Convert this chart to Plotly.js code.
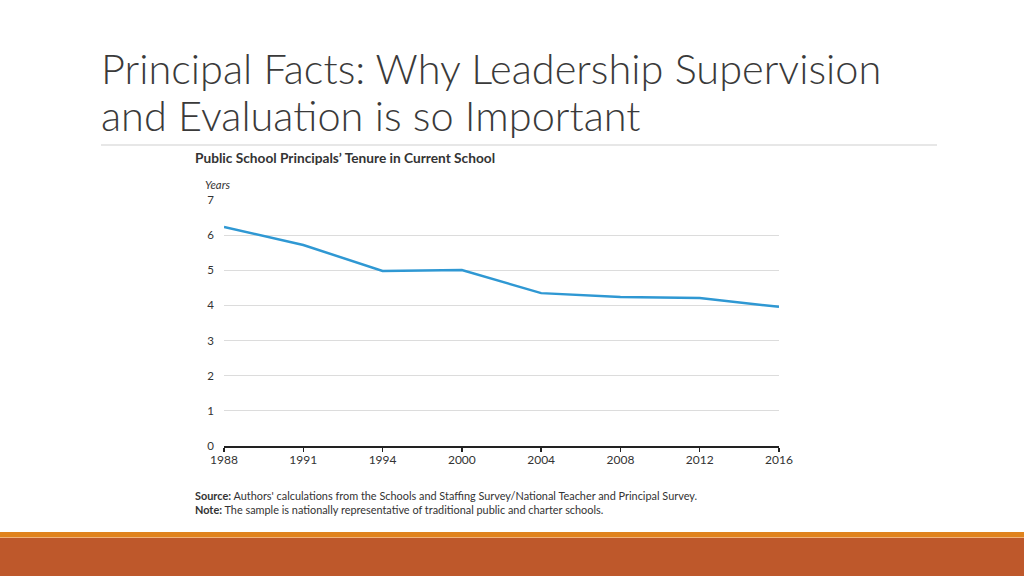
<!DOCTYPE html>
<html>
<head>
<meta charset="utf-8">
<script src="https://cdn.plot.ly/plotly-3.0.1.min.js"></script>
<style>html,body{margin:0;padding:0;background:#fff;}#chart{width:1024px;height:576px;}</style>
</head>
<body>
<div id="chart"></div>
<script>
const years = ["1988","1991","1994","2000","2004","2008","2012","2016"];
const tenure = [6.23, 5.72, 4.98, 5.01, 4.35, 4.24, 4.21, 3.96];
const yTicks = [0,1,2,3,4,5,6,7];
const slideTitle = ["Principal Facts: Why Leadership Supervision", "and Evaluation is so Important"];
const chartTitle = "Public School Principals’ Tenure in Current School";
const yLabel = "Years";
const sourceNote = "<b>Source:</b> Authors' calculations from the Schools and Staffing Survey/National Teacher and Principal Survey.";
const sampleNote = "<b>Note:</b> The sample is nationally representative of traditional public and charter schools.";

const trace = {
  x: years, y: tenure, type: 'scatter', mode: 'lines',
  line: {color: '#2f98d3', width: 2.5},
  hoverinfo: 'skip', showlegend: false
};

const W = 1024, H = 576;
const ML = 224, MR = 245, MT = 200, MB = 130;
const plotW = W - ML - MR, plotH = H - MT - MB;
function ax(x){return (x - ML)/plotW;}
function ay(y){return (H - MB - y)/plotH;}

const layout = {
  width: W, height: H,
  margin: {l: ML, r: MR, t: MT, b: MB},
  paper_bgcolor: '#fff', plot_bgcolor: '#fff',
  font: {family: 'Lato, sans-serif', color: '#333'},
  xaxis: {
    type: 'category', range: [0, 7], showgrid: false,
    showline: true, linecolor: '#222', linewidth: 1.5,
    ticks: 'outside', ticklen: 4, tickcolor: '#222', tickwidth: 1.5,
    tickfont: {size: 12, color: '#333'}, zeroline: false, fixedrange: true,
    ticklabelstandoff: -2
  },
  yaxis: {
    range: [0, 7], tickvals: yTicks, showgrid: true, gridcolor: '#dcdcdc', gridwidth: 1,
    zeroline: false, showline: false, ticks: '', tickfont: {size: 11.5, color: '#333'},
    ticklabelstandoff: 9, fixedrange: true
  },
  showlegend: false
};

layout.shapes = [
  {type:'line', xref:'paper', yref:'paper', x0: ax(101), x1: ax(937), y0: ay(145), y1: ay(145), line:{color:'#d0d0d0', width:1.2}},
  {type:'rect', xref:'paper', yref:'paper', x0: ax(0), x1: ax(1024), y0: ay(537), y1: ay(532), fillcolor:'#e0831d', line:{width:0}, layer:'above'},
  {type:'rect', xref:'paper', yref:'paper', x0: ax(0), x1: ax(1024), y0: ay(538), y1: ay(537), fillcolor:'#f0b27a', line:{width:0}, layer:'above'},
  {type:'rect', xref:'paper', yref:'paper', x0: ax(0), x1: ax(1024), y0: ay(577), y1: ay(538), fillcolor:'#be582b', line:{width:0}, layer:'above'}
];

layout.annotations = [
  {text: slideTitle[0], xref:'paper', yref:'paper', x: ax(99), y: ay(95), xanchor:'left', yanchor:'bottom', showarrow:false,
   font:{family:'Lato, sans-serif', size:41.5, weight:300, color:'#3a3a3a'}},
  {text: slideTitle[1], xref:'paper', yref:'paper', x: ax(99), y: ay(142), xanchor:'left', yanchor:'bottom', showarrow:false,
   font:{family:'Lato, sans-serif', size:41.5, weight:300, color:'#3a3a3a'}},
  {text: '<b>' + chartTitle + '</b>', xref:'paper', yref:'paper', x: ax(193), y: ay(157), xanchor:'left', yanchor:'middle', showarrow:false,
   font:{size:13.7, color:'#333'}},
  {text: '<i>' + yLabel + '</i>', xref:'paper', yref:'paper', x: ax(203), y: ay(184), xanchor:'left', yanchor:'middle', showarrow:false,
   font:{size:11.3, color:'#333'}},
  {text: sourceNote, xref:'paper', yref:'paper', x: ax(193), y: ay(495), xanchor:'left', yanchor:'middle', showarrow:false,
   font:{size:10.9, color:'#333'}},
  {text: sampleNote, xref:'paper', yref:'paper', x: ax(193), y: ay(509), xanchor:'left', yanchor:'middle', showarrow:false,
   font:{size:10.9, color:'#333'}}
];

Plotly.newPlot('chart', [trace], layout, {displayModeBar: false, staticPlot: true});
</script>
</body>
</html>
